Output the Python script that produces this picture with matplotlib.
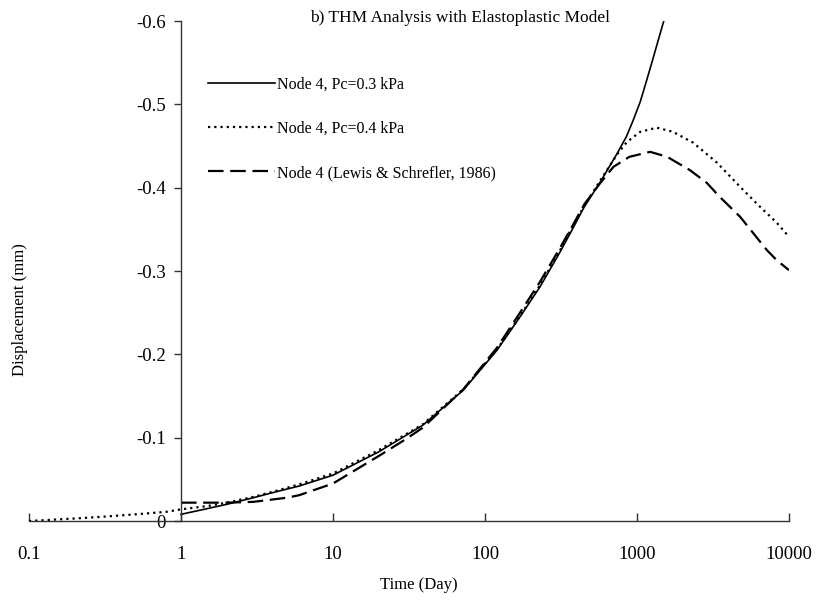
import numpy as np
import matplotlib
matplotlib.use('Agg')
import matplotlib.pyplot as plt
from matplotlib.ticker import FixedLocator, FixedFormatter, NullLocator

plt.rcParams['font.family'] = ['Liberation Serif', 'DejaVu Serif']

# data
t_pc03 = [1, 1.5, 2, 3, 4, 6, 10, 20, 39, 72, 120, 170, 230, 310, 373, 450,
          570, 740, 850, 940, 1050, 1150, 1270, 1380, 1500]
d_pc03 = [-0.008, -0.015, -0.02, -0.028, -0.034, -0.042, -0.055, -0.083,
          -0.115, -0.157, -0.205, -0.245, -0.281, -0.322, -0.349, -0.377,
          -0.406, -0.441, -0.461, -0.480, -0.503, -0.527, -0.554, -0.577,
          -0.600]

t_pc04 = [0.1, 0.2, 0.3, 0.5, 0.8, 1, 1.5, 2, 3, 4, 6, 10, 20, 39, 72, 120,
          170, 230, 310, 373, 450, 570, 740, 860, 1050, 1350, 1725, 2340,
          3360, 4770, 6450, 8300, 10000]
d_pc04 = [0, -0.003, -0.005, -0.008, -0.011, -0.014, -0.018, -0.022, -0.029,
          -0.035, -0.044, -0.057, -0.085, -0.116, -0.158, -0.206, -0.246,
          -0.283, -0.324, -0.352, -0.378, -0.408, -0.440, -0.455, -0.467,
          -0.472, -0.467, -0.454, -0.430, -0.401, -0.377, -0.358, -0.341]

t_lewis = [1, 2, 3, 5, 6, 10, 20, 30, 39, 72, 120, 170, 230, 310, 373, 450,
           570, 700, 890, 1220, 1580, 2230, 2870, 3500, 4770, 7160, 8300, 10000]
d_lewis = [-0.022, -0.022, -0.023, -0.028, -0.031, -0.045, -0.078, -0.098,
           -0.112, -0.158, -0.208, -0.25, -0.287, -0.327, -0.353, -0.38,
           -0.405, -0.425, -0.437, -0.443, -0.437, -0.421, -0.406, -0.389,
           -0.365, -0.325, -0.313, -0.301]

x_ticks = [0.1, 1, 10, 100, 1000, 10000]
x_labels = ['0.1', '1', '10', '100', '1000', '10000']
y_ticks = [0, -0.1, -0.2, -0.3, -0.4, -0.5, -0.6]
y_labels = ['0', '-0.1', '-0.2', '-0.3', '-0.4', '-0.5', '-0.6']

W, H = 817, 609
fig = plt.figure(figsize=(W / 100, H / 100), dpi=100)
ax = fig.add_axes([29 / W, 1 - 521 / H, (789 - 29) / W, (521 - 21) / H])

ax.plot(t_pc03, d_pc03, color='black', lw=1.2, ls='-',
        label='Node 4, Pc=0.3 kPa')
ax.plot(t_pc04, d_pc04, color='black', lw=1.6, ls=(0, (1, 1.8)),
        label='Node 4, Pc=0.4 kPa')
ax.plot(t_lewis, d_lewis, color='black', lw=1.6, ls=(0, (7, 3)),
        label='Node 4 (Lewis & Schrefler, 1986)')

ax.set_xscale('log')
ax.set_xlim(0.1, 10000)
ax.set_ylim(0, -0.6)

ax.spines['left'].set_position(('data', 1))
ax.spines['top'].set_visible(False)
ax.spines['right'].set_visible(False)
for s in ['left', 'bottom']:
    ax.spines[s].set_color('#333333')
    ax.spines[s].set_linewidth(1.0)

ax.xaxis.set_major_locator(FixedLocator(x_ticks))
ax.xaxis.set_major_formatter(FixedFormatter(x_labels))
ax.xaxis.set_minor_locator(NullLocator())
ax.yaxis.set_major_locator(FixedLocator(y_ticks))
ax.yaxis.set_major_formatter(FixedFormatter(y_labels))

ax.tick_params(axis='x', direction='in', length=6, width=1.0, color='#333333',
               labelsize=13.5, pad=18)
ax.tick_params(axis='y', direction='out', length=5, width=1.0, color='#333333',
               labelsize=13.5, pad=6)

fig.text(460 / W, 1 - 18 / H, 'b) THM Analysis with Elastoplastic Model',
         ha='center', va='center', fontsize=12.5)
fig.text(419 / W, 1 - 585 / H, 'Time (Day)', ha='center', va='center',
         fontsize=12)
fig.text(20 / W, 1 - 310 / H, 'Displacement (mm)', ha='center', va='center',
         rotation=90, fontsize=12)

ax.legend(loc='upper left', bbox_to_anchor=(208 / W, 1 - 77 / H),
          bbox_transform=fig.transFigure, frameon=False, fontsize=11.5,
          handlelength=4.2, handletextpad=0.1, labelspacing=1.75,
          borderpad=0, borderaxespad=0)

fig.savefig('out.png', dpi=100)
